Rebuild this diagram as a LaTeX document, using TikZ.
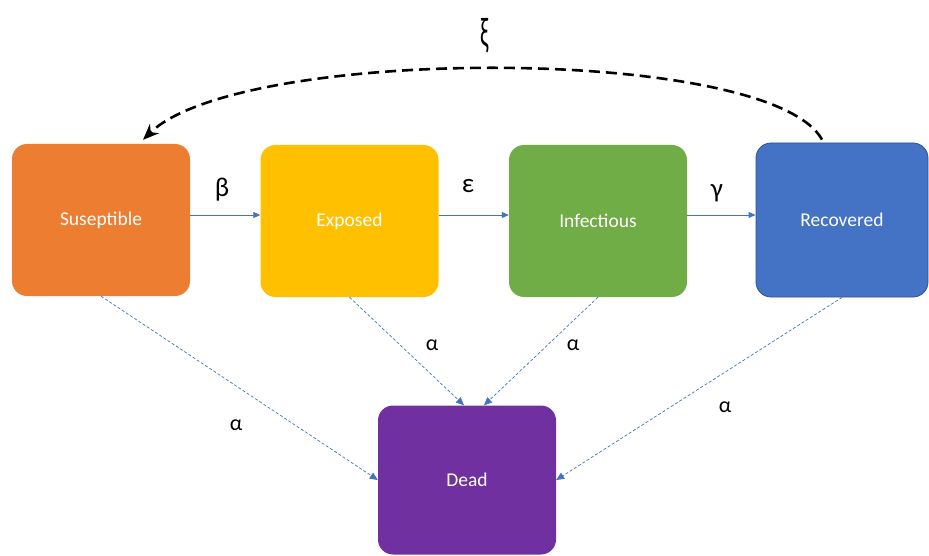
\documentclass[tikz,border=0pt]{standalone}
\usepackage{fontspec}
\setmainfont{Carlito}
\usetikzlibrary{arrows.meta}
\definecolor{cS}{HTML}{ED7D31}
\definecolor{cE}{HTML}{FFC000}
\definecolor{cI}{HTML}{70AD47}
\definecolor{cR}{HTML}{4472C4}
\definecolor{cRb}{HTML}{2F528F}
\definecolor{cD}{HTML}{7030A0}
\definecolor{cL}{HTML}{4472C4}
\tikzset{
  box/.style={rounded corners=15pt, minimum width=178pt, minimum height=152pt,
    inner sep=0pt, text=white, font=\fontsize{19.5}{22}\selectfont},
  flow/.style={draw=cL, line width=0.8pt, -{Triangle[length=7pt,width=6pt]}},
  death/.style={draw=cL, line width=0.7pt, dash pattern=on 3pt off 2pt, -{Triangle[length=8pt,width=7pt]}},
  greek/.style={font=\fontsize{27}{29}\selectfont, inner sep=0pt},
  alab/.style={font=\fontsize{22}{24}\selectfont, inner sep=0pt},
}
\begin{document}
\begin{tikzpicture}[x=1pt,y=-1pt]
\useasboundingbox (0,0) rectangle (929,556);
\node[box, fill=cS] (S) at (101,220) {Suseptible};
\node[box, fill=cE] (E) at (349.5,221) {Exposed};
\node[box, fill=cI] (I) at (598,221) {Infectious};
\node[box, fill=cR, draw=cRb, line width=0.8pt, minimum width=172pt, minimum height=154pt] (R) at (842,220) {Recovered};
\node[box, fill=cD, minimum height=149pt] (D) at (467,480) {Dead};

\draw[flow] (S.east |- 0,215) -- (E.west |- 0,215);
\draw[flow] (E.east |- 0,215) -- (I.west |- 0,215);
\draw[flow] (I.east |- 0,215) -- (R.west |- 0,215);

\draw[death] (S.south) -- (D.west);
\draw[death] (E.south) -- ([xshift=-3pt]D.north);
\draw[death] (I.south) -- ([xshift=17pt]D.north);
\draw[death] (R.south) -- (D.east);

\draw[black, line width=2.6pt, dash pattern=on 11pt off 6pt, -{Stealth[length=16pt,width=13pt]}]
  ([xshift=-20pt,yshift=3pt]R.north) .. controls (770,45) and (240,45) .. ([xshift=42pt,yshift=4pt]S.north);

\node[greek] (lb) at (222,190) {β};
\node[greek] (le) at (468,186) {ε};
\node[greek] (lg) at (717,193) {γ};
\node[font=\fontsize{32}{34}\selectfont, inner sep=0pt] (lx) at (485,36) {\scalebox{0.7}[1.3]{ξ}};
\node[alab] (a1) at (236,425) {α};
\node[alab] (a2) at (432,345) {α};
\node[alab] (a3) at (573,345) {α};
\node[alab] (a4) at (725,407) {α};
\end{tikzpicture}
\end{document}
